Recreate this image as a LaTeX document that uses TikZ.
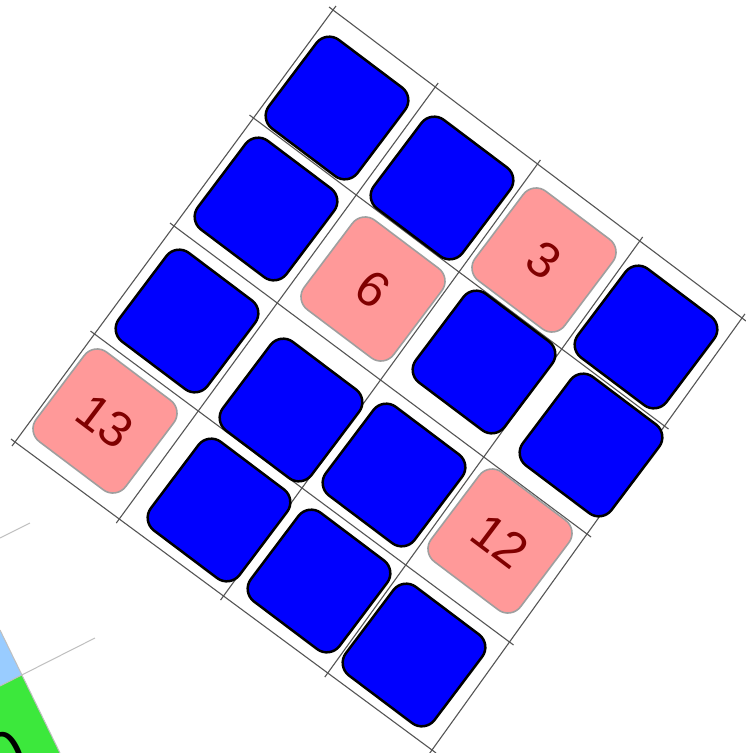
\documentclass[tikz,border=0pt]{standalone}
\usepackage{fontspec}
\setmainfont{Liberation Sans}
\usetikzlibrary{calc}
\definecolor{tileblue}{RGB}{0,0,255}
\definecolor{tilepink}{RGB}{255,153,153}
\definecolor{numred}{RGB}{128,0,0}
\definecolor{lightblue}{RGB}{153,204,255}
\definecolor{brightgreen}{RGB}{60,232,60}
\definecolor{gridgray}{RGB}{85,85,85}
\begin{document}
\begin{tikzpicture}[x=1pt,y=-1pt,
  bluetile/.style={draw=black, fill=tileblue, line width=2.5pt, rounded corners=16pt, minimum size=111pt, inner sep=0pt, rotate=-37},
  pinktile/.style={draw=gray!75, fill=tilepink, line width=1.6pt, rounded corners=16pt, minimum size=112pt, inner sep=0pt, rotate=-37, text=numred, font=\fontsize{50}{50}\selectfont},
  gridline/.style={draw=gridgray, line width=1.1pt, shorten <=-5pt, shorten >=-5pt},
  fragline/.style={draw=gray!50, line width=1pt}]
\useasboundingbox (0,0) rectangle (746,753);
\fill[white] (0,0) rectangle (746,753);
% fragment of a second grid, bottom left
\begin{scope}
\clip (0,0) rectangle (746,753);
\fill[lightblue] (0,630) -- (22,675) -- (0,686) -- cycle;
\fill[brightgreen] (0,686) -- (22,675) -- (60,753) -- (0,753) -- cycle;
\draw[fragline] (0,538) -- (30,523);
\draw[fragline] (0,686) -- (95,638);
\draw[fragline] (0,630) -- (60,753);
\node[font=\fontsize{62}{62}\selectfont, rotate=27, inner sep=0pt] (fragzero) at (6,754) {0};
\end{scope}
% main grid
\coordinate (T) at (333,10);
\coordinate (R) at (742,318);
\coordinate (B) at (432,750);
\coordinate (L) at (15,442);
\draw[gridline] (T) -- (R);
\draw[gridline] (R) -- (B);
\draw[gridline] (B) -- (L);
\draw[gridline] (L) -- (T);
\foreach \k in {0.25,0.5,0.75}{
  \draw[gridline] ($(T)!\k!(R)$) -- ($(L)!\k!(B)$);
  \draw[gridline] ($(T)!\k!(L)$) -- ($(R)!\k!(B)$);
}
% row 1
\node[bluetile] (a1) at (337,108) {};
\node[bluetile] (a2) at (442,188) {};
\node[pinktile] (a3) at (544,260) {3};
\node[bluetile] (a4) at (646,337) {};
% row 2
\node[bluetile] (b1) at (266,209) {};
\node[pinktile] (b2) at (373,289) {6};
\node[bluetile] (b3) at (484,362) {};
\node[bluetile] (b4) at (591,445) {};
% row 3
\node[bluetile] (c1) at (187,321) {};
\node[bluetile] (c2) at (291,410) {};
\node[bluetile] (c3) at (394,475) {};
\node[pinktile] (c4) at (500,541) {12};
% row 4
\node[pinktile] (d1) at (105,421) {13};
\node[bluetile] (d2) at (219,510) {};
\node[bluetile] (d3) at (319,581) {};
\node[bluetile] (d4) at (414,655) {};
\end{tikzpicture}
\end{document}
